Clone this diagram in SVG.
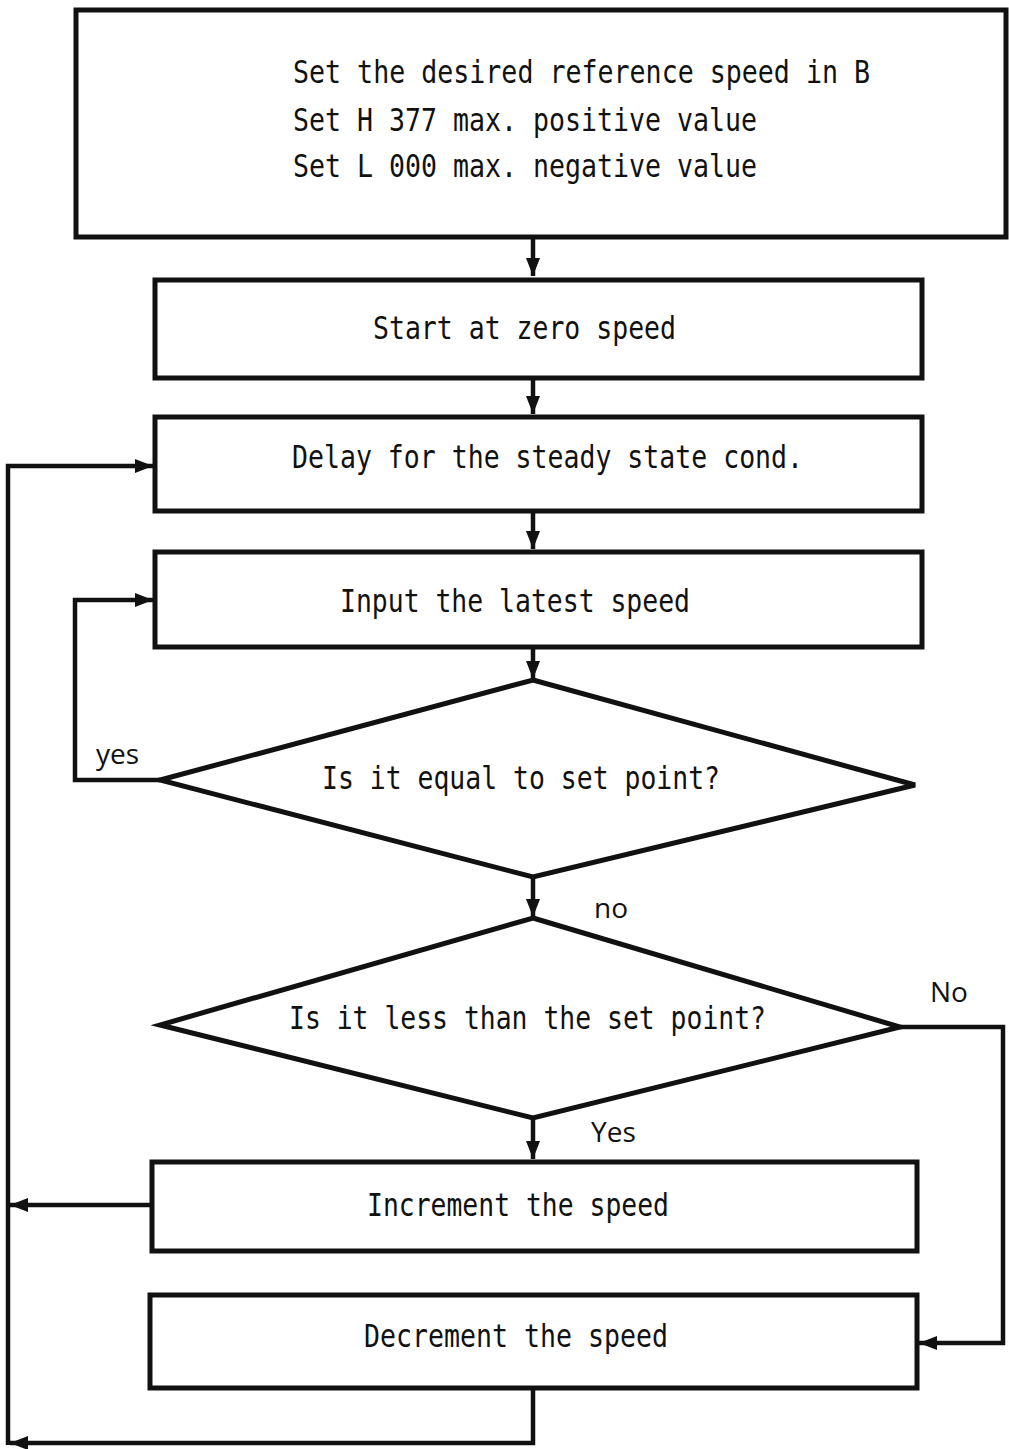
<svg xmlns="http://www.w3.org/2000/svg" width="1009" height="1449" viewBox="0 0 1009 1449">
<style>
.box{fill:none;stroke:#111;stroke-width:5}
.con{fill:none;stroke:#111;stroke-width:4.5}
.t{font-family:"DejaVu Sans Mono","Liberation Mono",monospace;font-size:32px;fill:#111}
.l{font-family:"Open Sans","Noto Sans",sans-serif;font-size:28px;fill:#111}
</style>
<defs>
<marker id="ah" markerUnits="userSpaceOnUse" markerWidth="20" markerHeight="16" refX="18" refY="8" orient="auto">
<path d="M0,1 L18,8 L0,15 Z" fill="#111"/>
</marker>
</defs>
<rect width="1009" height="1449" fill="#fff"/>
<g id="connectors">
<path class="con" d="M533,237 V276" marker-end="url(#ah)"/>
<path class="con" d="M533,378 V414" marker-end="url(#ah)"/>
<path class="con" d="M533,511 V549" marker-end="url(#ah)"/>
<path class="con" d="M533,647 V679" marker-end="url(#ah)"/>
<path class="con" d="M533,877 V917" marker-end="url(#ah)"/>
<path class="con" d="M160,780 H75 V600 H153" marker-end="url(#ah)"/>
<path class="con" d="M533,1118 V1159" marker-end="url(#ah)"/>
<path class="con" d="M900,1027 H1003 V1343 H919" marker-end="url(#ah)"/>
<path class="con" d="M152,1205 H10" marker-end="url(#ah)"/>
<path class="con" d="M533,1388 V1443 H10" marker-end="url(#ah)"/>
<path class="con" d="M8,1445 V466 H153" marker-end="url(#ah)"/>
<text class="l" x="96" y="764">yes</text>
<text class="l" x="594" y="918">no</text>
<text class="l" x="930" y="1002">No</text>
<text class="l" x="591" y="1142">Yes</text>
</g>
<g id="n1">
<rect class="box" x="76" y="10" width="930" height="227"/>
<text class="t" x="293" y="83" textLength="577" lengthAdjust="spacingAndGlyphs">Set the desired reference speed in B</text>
<text class="t" x="293" y="131" textLength="464" lengthAdjust="spacingAndGlyphs">Set H 377 max. positive value</text>
<text class="t" x="293" y="177" textLength="464" lengthAdjust="spacingAndGlyphs">Set L 000 max. negative value</text>
</g>
<g id="n2">
<rect class="box" x="155" y="280" width="767" height="98"/>
<text class="t" x="373" y="339" textLength="303" lengthAdjust="spacingAndGlyphs">Start at zero speed</text>
</g>
<g id="n3">
<rect class="box" x="155" y="417" width="767" height="94"/>
<text class="t" x="292" y="468" textLength="511" lengthAdjust="spacingAndGlyphs">Delay for the steady state cond.</text>
</g>
<g id="n4">
<rect class="box" x="155" y="552" width="767" height="95"/>
<text class="t" x="340" y="612" textLength="350" lengthAdjust="spacingAndGlyphs">Input the latest speed</text>
</g>
<g id="n5">
<polygon class="box" points="533,680 915,785 533,877 160,780"/>
<text class="t" x="322" y="789" textLength="398" lengthAdjust="spacingAndGlyphs">Is it equal to set point?</text>
</g>
<g id="n6">
<polygon class="box" points="533,918 900,1027 533,1118 160,1025"/>
<text class="t" x="289" y="1029" textLength="477" lengthAdjust="spacingAndGlyphs">Is it less than the set point?</text>
</g>
<g id="n7">
<rect class="box" x="152" y="1162" width="765" height="89"/>
<text class="t" x="367" y="1216" textLength="302" lengthAdjust="spacingAndGlyphs">Increment the speed</text>
</g>
<g id="n8">
<rect class="box" x="150" y="1295" width="767" height="93"/>
<text class="t" x="364" y="1347" textLength="304" lengthAdjust="spacingAndGlyphs">Decrement the speed</text>
</g>
</svg>
